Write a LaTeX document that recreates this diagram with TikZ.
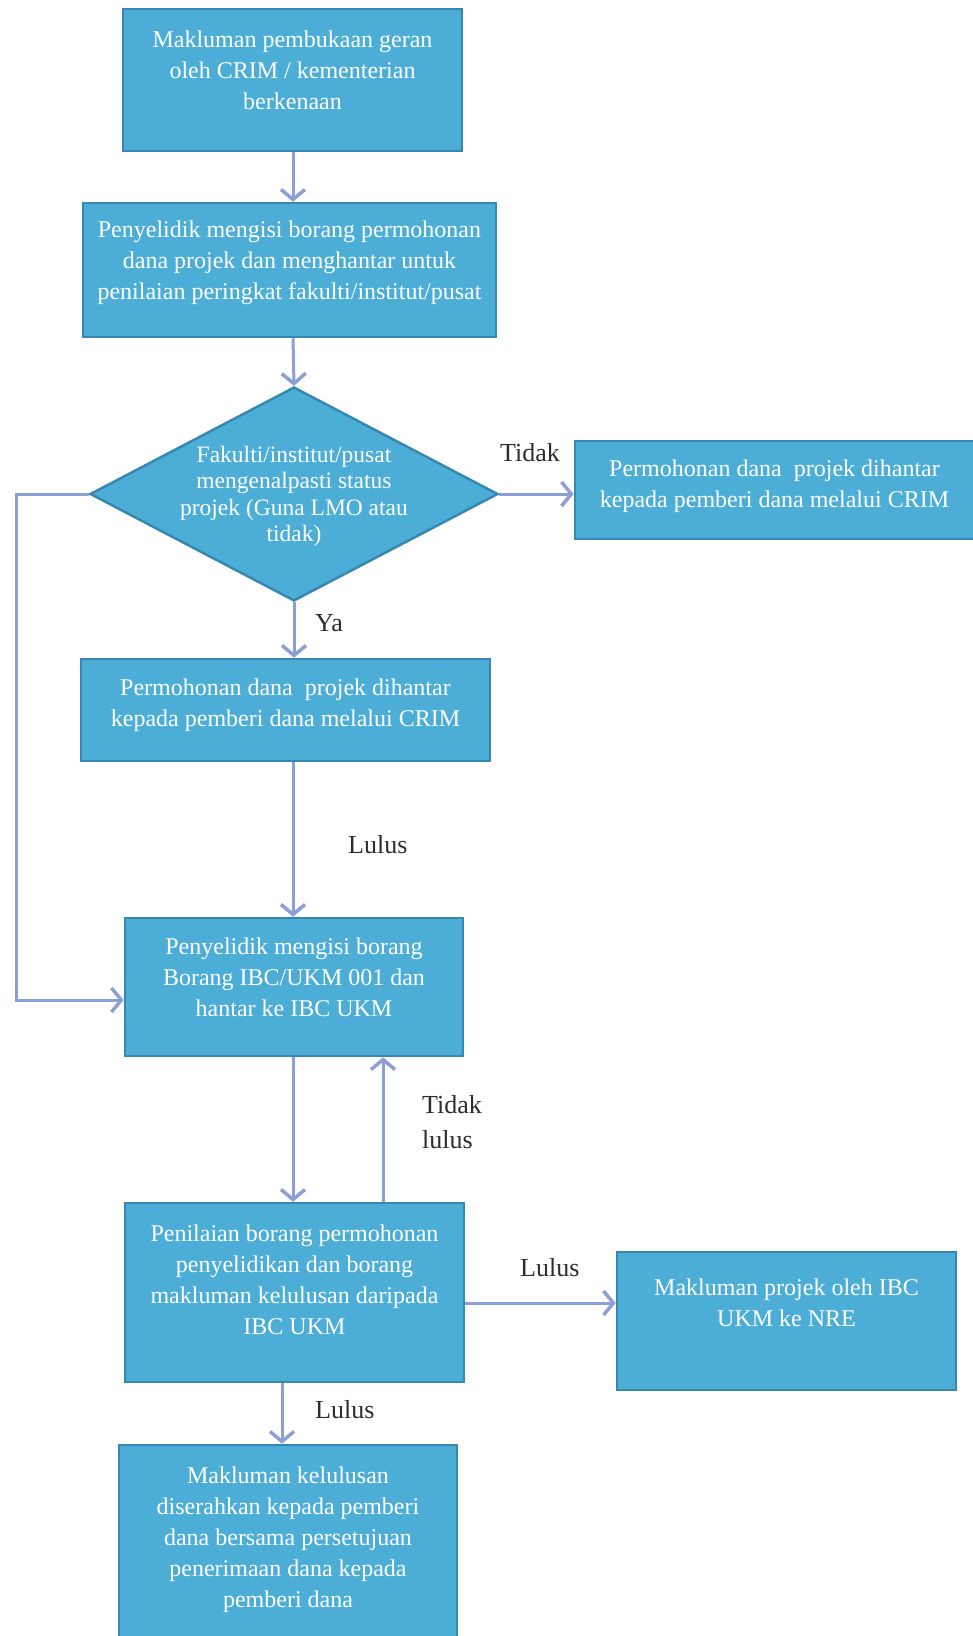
\documentclass[tikz,border=0pt]{standalone}
\usepackage{fontspec}
\setmainfont{Liberation Serif}
\usetikzlibrary{shapes.geometric,arrows.meta}
\definecolor{boxfill}{RGB}{76,174,214}
\definecolor{boxline}{RGB}{55,136,176}
\definecolor{arrowc}{RGB}{140,160,214}
\definecolor{labelc}{RGB}{45,45,45}
\newcommand\bt[1]{\raisebox{8pt}[\height][\depth]{\begin{tabular}{@{}c@{}}#1\end{tabular}}}
\begin{document}
\begin{tikzpicture}[x=1pt,y=-1pt,
  box/.style={draw=boxline, line width=2.5pt, fill=boxfill, text=white, inner sep=0pt,
    font=\fontsize{24}{31}\selectfont},
  dia/.style={shape=diamond, draw=boxline, line width=2.5pt, fill=boxfill, text=white, inner sep=0pt,
    font=\fontsize{23.5}{26.5}\selectfont},
  arr/.style={draw=arrowc, line width=3pt, -{Straight Barb[length=10pt,width=24pt,line width=3.5pt]}},
  lbl/.style={text=labelc, anchor=west, inner sep=0pt, font=\fontsize{26}{35}\selectfont, align=left}]
\useasboundingbox (0,0) rectangle (972,1636);
% nodes
\node[box, minimum width=339pt, minimum height=142pt] (b1) at (292.5,80)
  {\bt{Makluman pembukaan geran\\oleh CRIM / kementerian\\berkenaan}};
\node[box, minimum width=413pt, minimum height=134pt] (b2) at (289.5,270)
  {\bt{Penyelidik mengisi borang permohonan\\dana projek dan menghantar untuk\\penilaian peringkat fakulti/institut/pusat}};
\node[dia, minimum width=408pt, minimum height=214pt] (d) at (294,494)
  {\smash{\makebox[0pt]{\raisebox{-9pt}{\begin{tabular}{@{}c@{}}Fakulti/institut/pusat\\mengenalpasti status\\projek (Guna LMO atau\\tidak)\end{tabular}}}}};
\node[box, minimum width=399pt, minimum height=98pt] (bt) at (774.5,490)
  {\raisebox{4pt}[\height][\depth]{\begin{tabular}{@{}c@{}}Permohonan dana\ \ projek dihantar\\kepada pemberi dana melalui CRIM\end{tabular}}};
\node[box, minimum width=409pt, minimum height=102pt] (b3) at (285.5,710)
  {\raisebox{5pt}[\height][\depth]{\begin{tabular}{@{}c@{}}Permohonan dana\ \ projek dihantar\\kepada pemberi dana melalui CRIM\end{tabular}}};
\node[box, minimum width=338pt, minimum height=138pt] (b4) at (294,987)
  {\bt{Penyelidik mengisi borang\\Borang IBC/UKM 001 dan\\hantar ke IBC UKM}};
\node[box, minimum width=339pt, minimum height=179pt] (b5) at (294.5,1292.5)
  {\raisebox{11pt}[\height][\depth]{\begin{tabular}{@{}c@{}}Penilaian borang permohonan\\penyelidikan dan borang\\makluman kelulusan daripada\\IBC UKM\end{tabular}}};
\node[box, minimum width=339pt, minimum height=138pt] (nre) at (786.5,1321)
  {\raisebox{16pt}[\height][\depth]{\begin{tabular}{@{}c@{}}Makluman projek oleh IBC\\UKM ke NRE\end{tabular}}};
\node[box, minimum width=338pt, minimum height=205pt] (last) at (288,1547.5)
  {\bt{Makluman kelulusan\\diserahkan kepada pemberi\\dana bersama persetujuan\\penerimaan dana kepada\\pemberi dana}};
% coordinates
\coordinate (ax) at (293,0);
\coordinate (lp1) at (16,494);
\coordinate (lp2) at (16,1000);
\coordinate (up) at (383,0);
\coordinate (rt) at (0,1303);
\coordinate (dn) at (282,0);
% connectors
\draw[arr] (b1.south -| ax) -- (b2.north -| ax);
\draw[arr] (b2.south -| ax) -- (d.north);
\draw[arr] (d.east) -- (bt.west |- d.east);
\draw[arr] (d.south) -- (b3.north -| d.south);
\draw[arr] (b3.south -| ax) -- (b4.north -| ax);
\draw[arr] (d.west) -- (lp1) -- (lp2) -- (b4.west |- lp2);
\draw[arr] (b4.south -| ax) -- (b5.north -| ax);
\draw[arr] (b5.north -| up) -- (b4.south -| up);
\draw[arr] (b5.east |- rt) -- (nre.west |- rt);
\draw[arr] (b5.south -| dn) -- (last.north -| dn);
% labels
\node[lbl] (l1) at (500,453) {Tidak};
\node[lbl] (l2) at (315,623) {Ya};
\node[lbl] (l3) at (348,845) {Lulus};
\node[lbl] (l4) at (422,1122) {Tidak\\lulus};
\node[lbl] (l5) at (520,1268) {Lulus};
\node[lbl] (l6) at (315,1410) {Lulus};
\end{tikzpicture}
\end{document}
